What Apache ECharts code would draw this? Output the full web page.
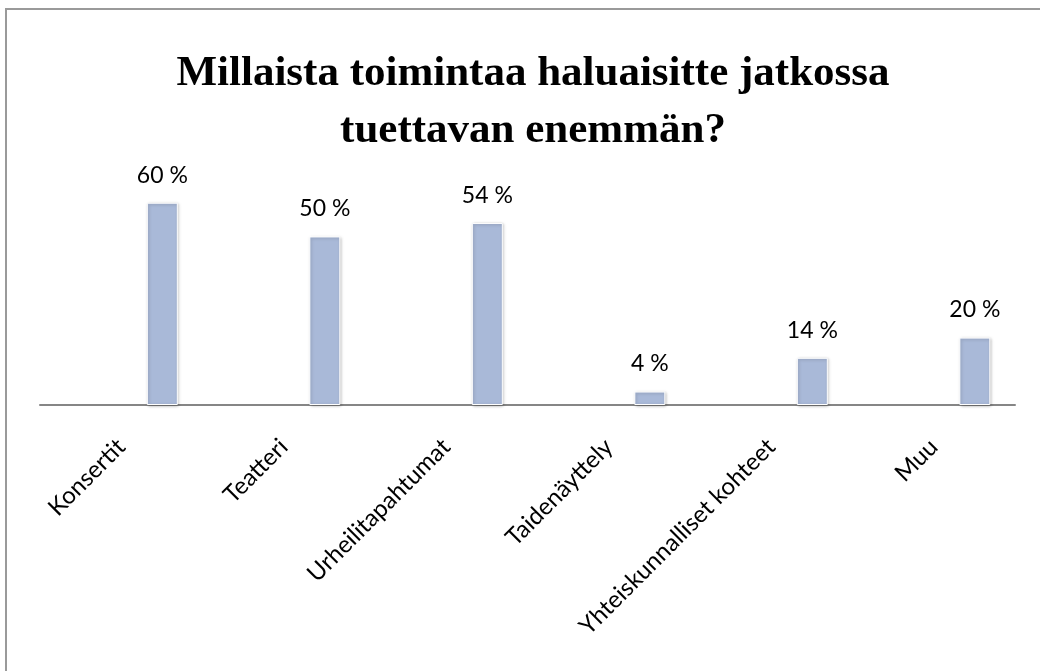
<!DOCTYPE html>
<html>
<head>
<meta charset="utf-8">
<script src="https://cdn.jsdelivr.net/npm/echarts@6/dist/echarts.min.js"></script>
<style>
  html, body { margin: 0; padding: 0; background: #fff; }
  #frame {
    position: absolute; left: 5px; top: 8px; width: 1035px; height: 663px;
    border-left: 2px solid #9a9a9a; border-top: 2px solid #9a9a9a;
    box-sizing: border-box;
  }
  #chart { position: absolute; left: 0; top: 0; width: 1040px; height: 671px; }
</style>
</head>
<body>
<div id="frame"></div>
<div id="chart"></div>
<script>
// kategoriat ja osuudet (%)
var categories = ["Konsertit", "Teatteri", "Urheilitapahtumat", "Taidenäyttely", "Yhteiskunnalliset kohteet", "Muu"];
var values = [60, 50, 54, 4, 14, 20];
// tyhjä sarja (Excelin alkuperäinen tyhjä sarake)
var emptyValues = [null, null, null, null, null, null];

var chart = echarts.init(document.getElementById("chart"));
var option = {
  animation: false,
  title: {
    text: "Millaista toimintaa haluaisitte jatkossa\ntuettavan enemmän?",
    left: 528,
    top: 40,
    textAlign: "center",
    textStyle: {
      fontFamily: "Liberation Serif",
      fontWeight: "bold",
      fontSize: 43,
      lineHeight: 57,
      color: "#000"
    }
  },
  grid: {
    left: 40,
    right: 25,
    top: 169,
    bottom: 266
  },
  xAxis: {
    type: "category",
    data: categories,
    axisLine: { lineStyle: { color: "#868686", width: 2 } },
    axisTick: { show: false },
    axisLabel: {
      rotate: 45,
      interval: 0,
      margin: 38,
      fontFamily: "Lato",
      fontSize: 24,
      color: "#000"
    }
  },
  yAxis: {
    type: "value",
    min: 0,
    max: 70,
    show: false
  },
  series: [
    {
      type: "bar",
      data: emptyValues,
      barWidth: 31,
      barGap: "165%"
    },
    {
      type: "bar",
      data: values,
      barWidth: 31,
      barGap: "165%",
      itemStyle: {
        color: "#a9b9d8",
        borderColor: "#ffffff",
        borderWidth: 1,
        shadowColor: "rgba(0,0,0,0.25)",
        shadowBlur: 3,
        shadowOffsetX: 1,
        shadowOffsetY: 1
      },
      label: {
        show: true,
        position: "top",
        distance: 16,
        formatter: "{c} %",
        fontFamily: "Lato",
        fontSize: 23,
        color: "#000"
      }
    }
  ]
};
chart.setOption(option);
</script>
</body>
</html>
